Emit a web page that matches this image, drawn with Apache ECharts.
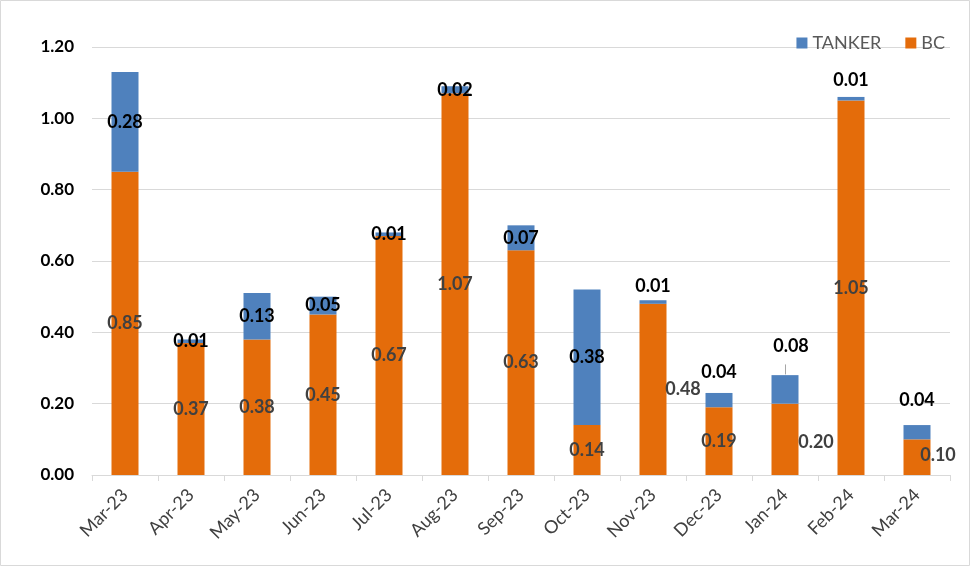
<!DOCTYPE html>
<html><head><meta charset="utf-8">
<script src="https://cdn.jsdelivr.net/npm/echarts@6/dist/echarts.min.js"></script>
<style>html,body{margin:0;padding:0;background:#fff}#c{width:972px;height:567px}</style>
</head><body><div id="c"></div>
<script>
const categories = ['Mar-23','Apr-23','May-23','Jun-23','Jul-23','Aug-23','Sep-23','Oct-23','Nov-23','Dec-23','Jan-24','Feb-24','Mar-24'];
const bcValues = [0.85,0.37,0.38,0.45,0.67,1.07,0.63,0.14,0.48,0.19,0.20,1.05,0.10];
const tankerValues = [0.28,0.01,0.13,0.05,0.01,0.02,0.07,0.38,0.01,0.04,0.08,0.01,0.04];
const yTicks = [0,0.2,0.4,0.6,0.8,1.0,1.2];

const FONT = 'Lato, "Open Sans", sans-serif';
// per-point label tweaks
const bcLabelOffsets = {8:[30,0], 10:[31,3], 12:[21,-2]};
const tankerTopDist = {8:5, 9:12, 10:20, 11:8, 12:16};
const leaderIdx = 10;

const bcData = bcValues.map((v,i)=>{
  const o = {value:v};
  if (bcLabelOffsets[i]) o.label = {offset: bcLabelOffsets[i]};
  return o;
});
const tankerData = tankerValues.map((v,i)=>{
  const o = {value:v};
  if (tankerTopDist[i] !== undefined) o.label = {position:'top', distance: tankerTopDist[i]};
  if (i === leaderIdx) o.label.offset = [6,0];
  return o;
});
const leaderTop = bcValues[leaderIdx] + tankerValues[leaderIdx];

const chart = echarts.init(document.getElementById('c'));
chart.setOption({
  animation:false,
  textStyle:{fontFamily:FONT},
  graphic:[{type:'rect', shape:{x:0.5,y:0.5,width:969,height:565}, style:{fill:'none', stroke:'#D9D9D9', lineWidth:1}, silent:true}],
  legend:{
    data:['TANKER','BC'], right:22, top:29, itemWidth:11, itemHeight:11, itemGap:24, itemTextGap:5, icon:'rect',
    textStyle:{color:'#595959', fontSize:18, fontFamily:FONT}
  },
  grid:{left:92, right:22, top:47, bottom:92},
  xAxis:{
    type:'category', data:categories,
    axisLine:{lineStyle:{color:'#D9D9D9'}},
    axisTick:{show:true, length:6, lineStyle:{color:'#D9D9D9'}},
    axisLabel:{rotate:45, color:'#404040', fontSize:18, fontFamily:FONT, margin:17, interval:0}
  },
  yAxis:{
    type:'value', min:0, max:1.2, interval:0.2,
    axisLine:{show:false}, axisTick:{show:false},
    splitLine:{lineStyle:{color:'#D9D9D9', width:1}},
    axisLabel:{color:'#000', fontWeight:'bold', fontSize:17, fontFamily:FONT, margin:18,
      formatter:v=>v.toFixed(2)}
  },
  series:[
    {name:'BC', type:'bar', stack:'a', barWidth:27, data:bcData,
     itemStyle:{color:'#E46C0A'},
     label:{show:true, position:'inside', color:'#404040', fontWeight:'bold', fontSize:18, fontFamily:FONT,
       formatter:p=>p.value.toFixed(2)}},
    {name:'TANKER', type:'bar', stack:'a', barWidth:27, data:tankerData,
     itemStyle:{color:'#4F81BD'},
     label:{show:true, position:'inside', color:'#000', fontWeight:'bold', fontSize:18, fontFamily:FONT,
       formatter:p=>p.value.toFixed(2)},
     markLine:{silent:true, symbol:'none', label:{show:false},
       lineStyle:{color:'#A6A6A6', width:1, type:'solid'},
       data:[[{coord:[categories[leaderIdx], leaderTop + 0.002]}, {coord:[categories[leaderIdx], leaderTop + 0.03]}]]}}
  ]
});
</script></body></html>
